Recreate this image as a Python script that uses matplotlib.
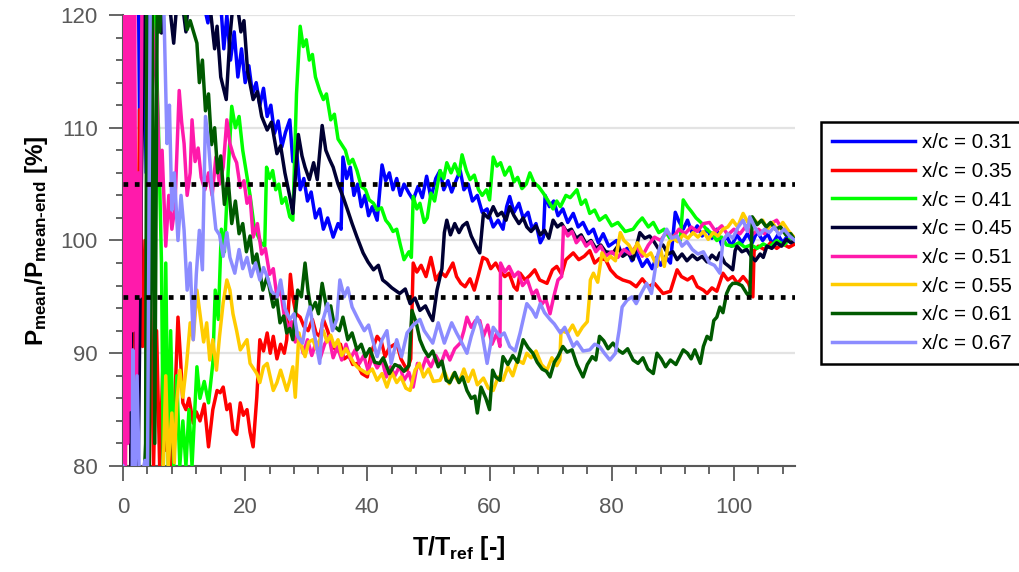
import numpy as np
import matplotlib.pyplot as plt
from matplotlib.ticker import MultipleLocator

plt.rcParams['font.family'] = 'Liberation Sans'
plt.rcParams['mathtext.fontset'] = 'custom'
plt.rcParams['mathtext.rm'] = 'Liberation Sans:bold'
plt.rcParams['mathtext.it'] = 'Liberation Sans:bold'
plt.rcParams['mathtext.bf'] = 'Liberation Sans:bold'

# (T/Tref, Pmean/Pmean-end %)
xc031 = [(0,112),(0.5,125),(1.0,108),(1.5,125),(2.5,125),(2.8,104),(3.2,125),(3.8,106),(4.2,125),(4.6,110),(5,125),(8,125),(12,124),(13.2,121),(13.9,119.3),(14.5,122),(16,121),(16.5,117),(17,120),(17.6,116),(18.2,118.5),(18.8,114.5),(19.4,117),(20,114),(20.6,115.5),(21.2,113),(21.8,114),(22.4,112),(23,113.5),(23.6,111),(24.2,112),(24.8,109.5),(25.4,110.6),(26,108.3),(26.6,109.6),(27.3,110.7),(27.8,107),(28.4,108),(29,104.5),(29.6,105.5),(30.2,103.5),(30.8,104.3),(31.5,102),(32.2,102.8),(32.8,101),(33.5,102),(34.4,100.3),(35.2,101.5),(35.7,101),(36,107.4),(36.6,105.5),(37.2,106.5),(37.8,104),(38.4,105),(39,103),(39.6,104),(40.2,102.2),(40.8,103),(41.6,101.8),(42.4,106.7),(43,105.3),(43.6,106),(44.2,104.5),(44.8,105.5),(45.4,104),(46,105),(46.8,104.2),(47.5,103.6),(48.3,104.8),(49,103.8),(49.7,105.7),(50.4,103.8),(51.2,105.5),(51.9,106.2),(52.5,104.5),(53.2,105.3),(53.8,104.3),(54.5,105.3),(55.2,106.2),(55.8,104.5),(56.5,105),(57.2,103.5),(58,104),(58.8,102.5),(59.6,102.8),(60.6,101.2),(61.4,101.8),(62.2,101),(62.8,103),(63.3,103.9),(64,102.5),(64.8,103.3),(65.5,102),(66.3,102.5),(67,101),(67.6,101.5),(68.3,99.8),(68.8,100.3),(69.1,104),(69.8,103),(70.5,103.5),(71.2,102.2),(72,102.8),(72.8,101.6),(73.7,102.4),(74.5,101.2),(75.3,101.6),(76.2,100.6),(77,101),(77.8,99.8),(78.6,100.6),(79.5,99.5),(80.8,100),(81.6,98.8),(82.5,99.3),(83.3,98.2),(84,99),(85,97.7),(85.8,98.3),(86.6,97.5),(87.3,98.5),(88,97.8),(88.8,98.6),(89.6,98),(90.4,102.5),(91,101.7),(91.7,101),(92.4,101.8),(93.2,100.6),(94,101.3),(94.8,100.4),(95.6,101),(96.4,100.2),(97.2,101),(98,99.6),(98.8,100.4),(99.6,99.5),(100.5,100.5),(101.3,99.8),(102.2,100.6),(103,99.8),(103.8,100.8),(104.7,100),(105.5,100.6),(106.3,99.7),(107.2,100.5),(108,99.8),(109,100.6),(110,100)]

xc035 = [(0,120),(0.4,80),(0.8,121),(1.3,80),(1.8,110),(2.2,80),(2.7,111.6),(3.2,90.6),(3.6,100),(4,82),(4.5,95),(5,80),(5.5,92),(6,80),(6.6,90),(7,81.4),(7.5,87),(8,80),(8.5,86),(9,93.2),(9.4,89.7),(9.8,85.6),(10.3,85),(10.8,86),(11.5,83.8),(12,84.8),(12.6,84),(13.3,85.5),(14,81.7),(14.7,85),(15.4,86.7),(15.9,86.5),(16.4,87),(17,85),(17.5,85.5),(18,83.2),(18.6,82.8),(19.2,85.6),(19.7,84.5),(20.3,85),(20.8,83),(21.3,81.7),(21.9,86.1),(22.4,91.2),(23,90.2),(23.6,91.8),(24.1,90),(24.6,91.5),(25.2,89.5),(25.8,90.8),(26.4,90),(26.8,91.2),(27.4,97),(27.8,95),(28.3,93.5),(29,93.2),(29.6,92.4),(30.3,92),(31,93),(31.6,91.8),(32.2,91.5),(32.8,93),(33.5,92),(34.2,90.7),(35,90.2),(35.6,90.8),(36.2,89.5),(37,89.8),(37.6,89),(38.3,89.1),(39.1,88.2),(40,87.9),(40.6,90),(41.6,91.5),(42.3,91),(42.9,89.7),(43.6,90.5),(44.8,90.9),(45.5,89.5),(46.5,88.5),(47.1,89.5),(47.5,98),(48.1,97.2),(48.8,97.8),(49.6,96.8),(50.4,98.5),(51.2,96.5),(52,97.2),(52.8,96.8),(53.4,97.4),(54,98),(54.6,96.8),(55.3,96.2),(56,95.9),(56.8,96.6),(57.5,95.6),(58.2,97),(58.9,98.5),(59.6,98.3),(60.2,97.5),(61,98),(61.7,97.3),(62.5,96.8),(63.2,97.1),(64,95.9),(64.5,95.6),(65,97.1),(65.8,96.5),(66.6,96.9),(67.4,97.4),(68.2,96.5),(69.4,96.2),(70.3,97.4),(71,97.7),(71.8,97),(72.5,98.3),(73.7,98.9),(74.6,98.3),(75.5,98.6),(76.4,99.1),(77.2,98),(78,98.4),(79,98.3),(79.8,97.4),(80.8,96.8),(81.8,96.5),(83,96.3),(84,95.9),(85,96.6),(86,95.9),(87,96.2),(88.4,95.3),(89.6,95.5),(90.7,97.4),(91.4,96.8),(92.4,96.5),(93.2,96.8),(94,95.9),(95,95.6),(95.6,95.3),(96.4,95.8),(97.2,95.5),(98.2,97.1),(99,96.5),(99.8,96.8),(100.6,96.2),(101.5,96.8),(102.4,96.2),(103.1,95),(103.3,99.1),(104,99.5),(105,99.2),(106,99.8),(107,99.3),(108,99.7),(109,99.4),(110,99.7)]

xc041 = [(0,125),(4.5,124),(5.2,121),(5.8,110),(6.3,98),(6.6,80),(7,98),(7.4,80),(7.8,92),(8.3,80),(8.8,88),(9.3,80),(9.8,84),(10.3,80),(10.8,85),(11.3,80),(12.1,88.8),(12.6,86),(13.3,87.5),(14,85.6),(14.7,89.1),(15.1,95.6),(15.6,93),(16.1,101),(16.6,99),(17.2,106),(17.8,111.9),(18.4,110),(19,111),(19.6,108),(20.2,106),(20.8,104),(21.4,101.5),(22,100.5),(22.6,99.8),(23.2,99.5),(23.5,106.5),(24,105.5),(24.5,106.2),(25,104.5),(25.5,105),(26,103.3),(26.6,103.8),(27.3,102.1),(27.8,101.8),(28.4,113),(29,119),(29.5,117.2),(30,117.8),(30.5,116),(31,116.5),(31.5,114.5),(32.2,113.3),(32.8,112.5),(33.3,113),(34,110.7),(34.6,111.2),(35.2,109),(35.8,108.5),(36.4,108),(37,106.8),(37.6,107.2),(38.3,106.2),(39,104.8),(39.7,104.5),(40.3,103.6),(41,103.3),(41.6,102.7),(42.3,102.9),(43,101.8),(43.6,101.4),(44.2,100.8),(44.8,101),(45.4,99.6),(46,98.3),(46.8,99),(47.2,98.5),(47.5,103.9),(48.1,102.8),(48.6,103.3),(49.3,101.6),(49.8,102),(50.4,104.2),(51,103.5),(51.9,106.2),(52.5,105.5),(53,106.9),(53.7,106),(54.3,106.8),(55,105.8),(55.5,107.6),(56.2,106.2),(56.8,105.4),(57.5,105.8),(58.2,104.5),(58.8,104),(59.5,104.5),(60,103.6),(60.6,107.4),(61.2,106.6),(61.8,106.9),(62.5,105.8),(63.3,106.5),(64,105.2),(64.6,105.6),(65.3,104.6),(66,105),(66.6,106),(67.3,105.1),(68,104.8),(68.8,104.2),(69.5,103.6),(70.4,102.8),(71,103.5),(71.6,103),(72.5,104),(73.2,103.8),(74.3,104.5),(75,103.2),(75.7,103.6),(76.4,102.4),(77.2,102.7),(78,101.8),(79,102.2),(80,101.3),(81,101.6),(82.2,100.8),(83.5,101),(84.3,101.6),(85,102),(86,101.2),(86.8,101.6),(87.7,100.7),(88.6,101),(89.5,100.2),(90.4,100.5),(91.2,100),(91.7,103.6),(92.4,103),(93,102.6),(93.8,102),(94.6,101.6),(95.5,101),(96.4,100.6),(97.2,100),(98,100.3),(98.8,99.6),(99.8,99.5),(100.8,99.8),(101.8,99.4),(102.8,99.6),(103.8,99.3),(104.8,99.7),(105.8,99.4),(107,100),(108.2,99.6),(109.2,100.2),(110,100)]

xc045 = [(0,110),(0.5,82),(1.0,121),(1.3,80),(1.6,121),(2.0,95),(2.5,80),(3,105),(3.5,121),(6,121),(6.3,118.4),(6.6,122),(7.8,120),(8.3,117.5),(8.8,121),(9.5,122),(10.3,118.5),(10.8,122),(14.2,121),(15,117),(15.4,119),(16,114.5),(16.9,112.5),(17.5,118),(18,121),(18.7,121),(19.3,118.5),(19.8,119.5),(20.4,115),(21.3,112.5),(22,113.2),(22.7,111),(23.6,109.8),(24.3,110.5),(25.2,107.7),(25.8,108.4),(26.5,106),(27.3,103.9),(27.8,102.4),(28.7,109.4),(29.3,107.5),(29.8,106.5),(30.5,105.4),(31.2,106.9),(31.8,105.4),(32.6,110.2),(33.2,108),(33.8,107.2),(34.4,106.5),(35.2,105),(36,103.9),(36.7,102.8),(37.5,101.5),(38.3,100.3),(39.3,98.9),(40.1,98.1),(41,97.4),(41.8,97.8),(42.5,96.5),(43.2,96.2),(44,95.8),(45.3,95.3),(46.2,95.7),(47,94.4),(47.8,94.9),(48.6,93.8),(49.5,94.2),(50.2,93.4),(50.7,92.9),(51.4,95.6),(52.2,97.5),(52.6,100.7),(53,101.8),(53.6,100.5),(54.3,101.5),(55,100.7),(55.6,101.3),(56.3,101.6),(57,100.4),(57.8,99.5),(58.4,98.9),(59,102.4),(59.8,102),(60.6,103),(61.3,102.2),(62,102.5),(62.7,101.8),(63.3,103),(64,102.2),(64.8,101.5),(65.5,102),(66.1,101.2),(66.8,100.8),(67.6,101.3),(68.3,100.5),(69,100.9),(69.7,100.2),(70.4,101.8),(71.1,101.2),(71.8,101.5),(72.6,100.8),(73.4,101),(74.2,100.2),(75,100.5),(75.8,99.7),(76.6,100),(77.4,99.3),(78.2,99.6),(79,99),(80.2,98.9),(81,99.5),(81.8,98.6),(82.6,98.9),(83.5,98.3),(84.6,100.7),(85.4,100.2),(86.2,100.4),(86.8,100),(87.6,99.3),(88.4,99.6),(89.2,98.8),(90,99),(90.7,98.3),(91.5,98.8),(92.3,98.2),(93.2,98.7),(94,98.3),(94.8,98.6),(95.6,98.1),(96.4,98.7),(97.2,98.3),(97.7,98.9),(98.5,98),(99.2,97.7),(99.8,97.4),(100.2,99.1),(100.5,99.5),(101.3,99),(102.1,99.2),(102.8,98.6),(103.5,98.2),(104.3,98.8),(104.8,98.5),(105.4,99.5),(106.2,99.3),(107,99.8),(107.8,99.5),(108.6,100.1),(109.3,99.8),(110,100)]

xc051 = [(0,80),(0.15,121),(0.35,80),(0.55,121),(0.75,82),(0.95,121),(1.15,85),(1.35,120),(1.6,92),(1.9,121),(2.2,86),(2.5,106),(2.8,95),(3.1,121),(4.5,122),(5.6,112.6),(6,105),(6.4,108),(7,99.5),(7.5,104),(8,101),(8.5,103),(9.2,113.3),(9.6,110.5),(10,108.6),(10.5,104),(11,106),(11.3,110.7),(11.8,107),(12.3,108.2),(12.8,105.6),(13.4,104.5),(14,106),(14.6,104),(15.2,107.4),(15.8,105),(16.4,106.5),(17,110.7),(17.5,108.6),(18.1,107.5),(18.6,106.9),(19.2,104.7),(19.8,105.3),(20.3,103.3),(20.8,103.9),(21.3,100.3),(22,101.5),(22.7,98.8),(23.3,99.3),(24,97),(24.6,97.5),(25.2,95),(25.8,95.6),(26.4,93.3),(27,92.2),(27.6,92.8),(28.2,91),(28.8,91.6),(29.5,90),(30.2,91.2),(30.9,89.8),(31.6,91),(32.3,89.6),(33,90.8),(33.7,91.5),(34.4,89.6),(35.1,90.6),(35.8,89.4),(36.5,90.8),(37.2,89.5),(38,90.3),(38.7,89.1),(39.4,89.8),(40.1,88.5),(40.8,89.6),(41.6,88.7),(42.4,89.4),(43.1,87.9),(43.8,88.8),(44.5,88),(45.3,88.9),(46,87.6),(46.8,88.3),(47.5,87),(48.2,89.1),(48.9,88.5),(49.6,89.6),(50.4,88.8),(51.2,89.8),(52,89),(52.8,90.2),(53.5,89.4),(54.3,90.4),(55.2,90.9),(55.8,92),(56.3,93.2),(57,92.3),(57.7,92.9),(58.4,92.9),(59,91.5),(59.7,92.5),(60.4,90.8),(61.2,91.8),(61.7,90.6),(61.8,98),(62.5,97.2),(63.2,97.7),(64,96.8),(64.7,97.2),(65.4,96),(66.2,96.5),(67,95.2),(67.7,95.6),(68.5,94.3),(69.2,94.8),(69.9,93.5),(70.5,95),(71.2,96.5),(71.8,96.8),(72.1,101.2),(72.8,100.4),(73.5,100.8),(74.2,99.8),(75,100.3),(75.8,99.5),(76.6,99.9),(77.4,99),(78.2,99.5),(79,98.6),(80,99),(81,98.5),(82,99.2),(83,98.8),(84,99.5),(85,98.6),(86,99.6),(87,100.3),(88,100),(89,100.8),(90,100.2),(91,101),(92,100.6),(93,101.2),(94,100.8),(95,101.5),(96,101.6),(97,100.8),(98,101.3),(99,100.5),(100,101),(101,100.6),(102,101.3),(103,100.5),(104,101),(105,100.6),(106,101.5),(107,101.8),(108,100.9),(109,100.6),(110,100)]

xc055 = [(0,70),(6.2,78),(6.6,80),(7,88),(7.4,80),(8,84.7),(8.4,80.3),(8.8,85.6),(9.3,88.5),(9.8,86.1),(10.4,89),(11,92.7),(11.5,91.2),(12.1,95.6),(12.6,93.5),(13.2,91),(13.7,92.7),(14.2,89.4),(14.7,91.2),(15.3,88.5),(15.8,91.5),(16.4,94.5),(17,96.5),(17.5,95.6),(18,93.5),(18.6,92),(19.2,90.3),(20.3,91.2),(20.8,89.1),(21.9,88.2),(22.4,87.4),(23,88.8),(23.6,89.1),(24.6,86.7),(25.2,87.4),(25.8,88.5),(26.8,86.7),(27.3,87.6),(27.8,88.8),(28.2,86.1),(28.8,91.8),(29.3,90.5),(29.8,89.7),(30.4,91),(31.1,91.2),(31.6,90.4),(32.8,92),(33.4,91),(34,91.6),(34.6,90.6),(35.2,91.2),(35.8,89.8),(36.5,90.4),(37.8,89.1),(38.5,88.7),(40,88.2),(40.8,88.6),(41.6,87.6),(42.4,88.2),(43.2,87),(44,88.3),(44.8,87.4),(45.5,87.9),(46.3,86.9),(47,86.7),(47.8,88.5),(48.5,89.1),(49.2,87.9),(50,88.6),(50.8,87.5),(51.9,87.6),(52.6,88.4),(53.4,87.3),(54.1,88.2),(55,87.4),(55.8,88.6),(56.5,87.5),(57.3,88.5),(58,87.2),(59,87.8),(59.8,86.9),(60.6,86.7),(61.4,87.9),(62.2,87.6),(63,88.8),(63.8,88),(64.6,89.4),(65.5,89.1),(66.1,90),(66.8,89.6),(67.6,90.2),(68.5,89),(69.4,88.5),(70.2,89.6),(71,88.9),(71.5,89.4),(71.7,92),(72.8,91.8),(73.6,92.5),(74.4,91.6),(75.2,92.3),(76,92.8),(76.3,94.7),(76.5,96.5),(77,97.1),(77.7,96.3),(78.4,98.9),(79.2,98.2),(79.8,98.6),(80.6,98.2),(81.4,100.7),(82,100),(82.8,99.6),(83.5,98.9),(84.2,99.8),(84.9,99),(85.7,98.6),(86.4,98.9),(87.4,97.7),(87.9,99.5),(88.6,97.7),(89.3,99.8),(90,100.2),(90.8,99.9),(91.7,100.5),(92.5,100.2),(93.3,100.7),(94.1,100.3),(95,100.8),(95.8,100.1),(96.6,100.7),(97.4,100.4),(98.2,101),(99,101.2),(99.8,101.8),(100.6,101.2),(101.5,102.4),(102.3,101.6),(103.1,102),(103.9,101.5),(104.7,101.8),(105.5,101),(106.3,101.6),(107.1,100.9),(108,101.6),(109,100.8),(110,100.2)]

xc061 = [(0,70),(3.4,78),(3.7,82),(3.9,121),(4.3,80),(4.8,121),(5.2,82),(5.6,121),(6,118.5),(6.4,122),(7,121),(8,125),(9,125),(10.5,118.7),(11,119.5),(12.1,117.5),(12.5,114),(13,116),(13.5,111.5),(14,113),(14.5,108.5),(15,110),(15.5,106),(16,107.5),(16.6,103.2),(17.2,105.5),(17.8,101.5),(18.4,103.5),(19,100.6),(19.6,101.5),(20.2,99),(20.8,100.4),(21.3,98),(21.9,98.8),(22.9,95.6),(23.6,96.8),(24.6,94.1),(25.2,94.8),(25.7,92.7),(26.3,93.3),(26.8,91.8),(27.3,92.2),(27.8,91.2),(28.6,95.6),(29.2,95),(29.8,98),(30.3,95.5),(30.8,93.8),(31.5,94.5),(32,93.5),(32.6,96.2),(33.4,93.8),(34,94.2),(34.6,92.4),(35.4,92),(36,93.2),(36.8,91.2),(37.5,91.8),(38.3,90.3),(39,90.8),(39.7,89.7),(40.4,90.4),(41.2,89.2),(42,89.1),(42.6,89.6),(43.6,88.2),(44.5,89),(45.3,88.8),(46,88.4),(46.8,88.9),(47.3,93.8),(48,92.7),(48.6,91.2),(49.3,90.3),(50,89.7),(50.7,90.2),(51.6,88.8),(52.2,89.3),(52.9,87.6),(53.5,87.4),(54.3,88.3),(55,87.4),(55.6,87.9),(56.3,86.7),(57,86),(57.6,86.2),(58,84.7),(58.6,87),(59.4,86),(60,85),(60.5,88.5),(61,87.9),(61.7,87.6),(62.2,89.7),(63,89),(63.8,89.8),(64.6,89.2),(65.5,91.2),(66.3,90.5),(67.1,90),(67.8,89.2),(68.6,88.6),(69.3,88.4),(69.9,87.9),(70.6,89.2),(71.2,89.7),(72,90.6),(72.7,90.1),(73.5,90.3),(74.3,89),(75.3,87.9),(76,89),(76.8,89.7),(77.4,89.4),(78,91.5),(78.7,91.1),(79.4,90.4),(80.2,90.9),(81,90.3),(81.8,90),(82.6,90.4),(83.5,89.4),(84.3,89.1),(85.1,89.6),(85.9,88.6),(86.8,88.2),(87.4,90),(88.1,89.5),(88.8,88.8),(89.6,89.4),(90.5,89),(91.7,90.3),(92.4,90),(93,89.5),(93.6,90.3),(94.5,89.1),(95,90.6),(95.6,91.5),(96.2,91.2),(96.7,92.9),(97.2,93.2),(97.7,94.1),(98.2,93.6),(98.8,95.3),(99.3,95.9),(99.8,96.2),(100.5,96.2),(101.3,96),(102.1,95.3),(102.6,95),(103,102.1),(103.8,101.4),(104.5,101.8),(105.3,101.2),(106,101.6),(106.8,101),(107.6,101.2),(108.5,100.5),(109.3,100.6),(110,100)]

xc067 = [(0,80),(1.5,78),(1.6,90.3),(2,80),(2.3,88),(2.7,78),(3.6,80.5),(4,78),(4.5,125),(6.5,125),(6.8,118),(7.2,108.6),(7.6,112),(8,102.7),(8.4,106),(9,100),(9.5,104),(10,100.9),(10.5,95.6),(11,98),(11.5,91.2),(12,97),(12.5,100.9),(13,97.4),(13.5,111),(14,108.6),(14.7,103.6),(15.2,101),(15.8,100.5),(16.4,98.6),(17,100.7),(17.5,98.5),(18.3,97.1),(19,99.2),(19.6,97.5),(20.3,98.5),(21,96.8),(21.7,98),(22.4,96.5),(23,97.6),(23.6,96.8),(24.3,95.5),(25.2,95),(25.8,96.5),(26.5,94),(27.3,93),(28,93.5),(28.6,91.5),(29.4,90.9),(30,93),(30.6,94.1),(31.2,92),(31.7,90.6),(32.2,89.1),(32.6,92.7),(33.5,94.4),(34.3,92),(35,93),(35.5,96.5),(36.2,95),(36.8,95.8),(37.5,94.1),(38.5,93),(39.5,92),(40.2,92.5),(41,90.9),(41.6,89.7),(42.4,91.2),(43.2,92),(43.9,89.1),(44.8,91.2),(45.6,89.7),(46.5,91.8),(47.5,92.5),(48.6,93),(49.3,92),(50.7,90.9),(51.6,92.7),(52.6,90.9),(53.8,92.7),(54.6,91.8),(55.2,91.2),(56.3,90),(57,91.5),(58,93.2),(58.6,92.3),(59.6,89.1),(60.1,90.6),(60.6,92.3),(61.7,91.5),(62.4,91.8),(63.3,90.6),(64.2,90.2),(65,91.8),(66.1,94.4),(67,93.8),(67.6,93.2),(68.3,94.4),(69,93.6),(69.9,93),(70.6,92.6),(71.6,91.8),(72.3,92.3),(73.7,90.6),(74.3,91),(75.3,90.2),(76.4,90.3),(77.2,90.8),(78,90.6),(78.8,90),(79.7,89.4),(80.6,90),(81.2,92),(81.7,94.1),(82.5,94.7),(83.3,95),(84,94.4),(84.9,95.4),(85.7,96.2),(86.5,95.3),(87.4,98.5),(88.2,100),(89,101),(89.8,100.2),(90.7,100.4),(91.5,99.5),(92.3,99.9),(93.2,99.2),(94.1,98.8),(95,99),(96,98),(96.8,97.8),(97.7,97.1),(98.2,100),(99,100.6),(99.8,100.2),(100.7,101.2),(101.5,101.8),(102.2,100.8),(102.6,102.1),(103.4,101.2),(104.2,100.5),(105,101),(105.8,100.7),(106.6,101.2),(107.4,100.5),(108.2,101),(109.1,100.4),(110,100)]

series = [xc031, xc035, xc041, xc045, xc051, xc055, xc061, xc067]
labels = ["x/c = 0.31", "x/c = 0.35", "x/c = 0.41", "x/c = 0.45",
          "x/c = 0.51", "x/c = 0.55", "x/c = 0.61", "x/c = 0.67"]
colors = ["#0000ff", "#ff0000", "#00ff00", "#000033",
          "#ff1aab", "#ffcc00", "#005a00", "#8c8cff"]
band = [95, 105]
grey = "#595959"

fig = plt.figure(figsize=(10.19, 5.72), dpi=100)
ax = fig.add_axes([0.1207, 0.1853, 0.6595, 0.7885])

for pts, col, lab in zip(series, colors, labels):
    arr = np.array(pts)
    ax.plot(arr[:, 0], arr[:, 1], color=col, lw=2.5, label=lab, zorder=3)
for b in band:
    ax.axhline(b, color="k", lw=3.4, ls=(0, (1, 1.4)), zorder=4)

ax.set_xlim(0, 110)
ax.set_ylim(80, 120)
ax.set_xticks(range(0, 101, 20))
ax.set_yticks(range(80, 121, 10))
ax.xaxis.set_minor_locator(MultipleLocator(4))
ax.yaxis.set_minor_locator(MultipleLocator(2))
ax.yaxis.grid(True, color="#e3e3e3", lw=1.6)
ax.set_axisbelow(True)
for s in ["top", "right"]:
    ax.spines[s].set_visible(False)
for s in ["left", "bottom"]:
    ax.spines[s].set_color(grey)
    ax.spines[s].set_linewidth(1.5)
ax.tick_params(axis="both", which="both", colors=grey, width=1.3, labelsize=16)
ax.tick_params(axis="x", which="major", length=11, pad=11)
ax.tick_params(axis="x", which="minor", length=6)
ax.tick_params(axis="y", which="major", length=10, pad=8)
ax.tick_params(axis="y", which="minor", length=5)

ax.set_xlabel(r"T/T$_{ref}$ [-]", fontsize=18, fontweight="bold", labelpad=12)
ax.set_ylabel(r"P$_{mean}$/P$_{mean\text{-}end}$ [%]", fontsize=17.5, fontweight="bold", labelpad=8)

leg = fig.legend(loc="upper left", bbox_to_anchor=(0.8057, 0.7867), fontsize=14.8,
                 fancybox=False, edgecolor="k", framealpha=1, handlelength=4.0,
                 handletextpad=0.34, labelspacing=0.47, borderpad=0.55, borderaxespad=0)
leg.get_frame().set_linewidth(1.8)
for h in leg.get_lines():
    h.set_linewidth(2.5)

fig.savefig("out.png", dpi=100)
